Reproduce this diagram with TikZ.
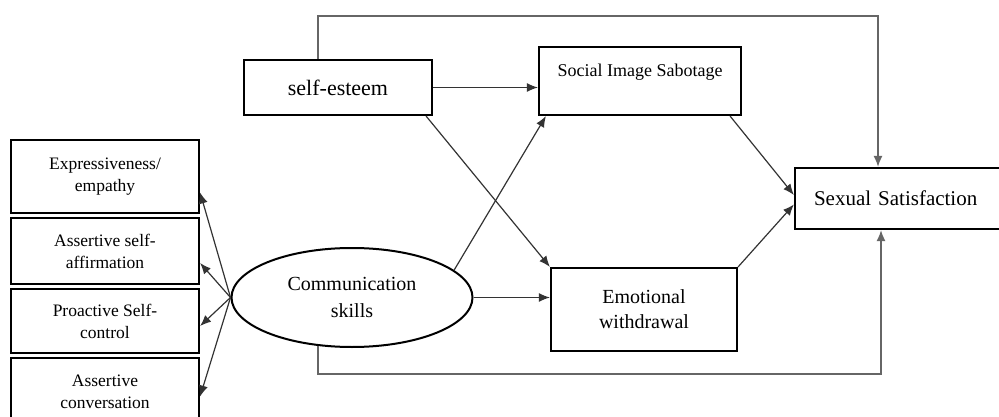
\documentclass[tikz,border=0pt]{standalone}
\usepackage{fontspec}
\setmainfont{Liberation Serif}
\usetikzlibrary{arrows.meta,shapes.geometric}

\begin{document}
\begin{tikzpicture}[x=1pt, y=-1pt,
    box/.style={draw, line width=2.2pt, align=center, inner sep=2pt},
    leftbox/.style={box, minimum width=188pt, font=\fontsize{17.5}{22}\selectfont},
    conn/.style={line width=1.2pt, draw=black!80, -{Latex[length=11pt,width=9pt]}},
    loop/.style={conn, line width=1.5pt, draw=black!60}]
    \useasboundingbox (0,0) rectangle (999,417);

    \node[box, minimum width=188pt, minimum height=55pt, font=\fontsize{22}{26}\selectfont] (esteem) at (338,87.5) {self-esteem};
    \node[box, minimum width=202pt, minimum height=68pt, text height=13pt, text depth=21pt, font=\fontsize{18}{22}\selectfont] (social) at (640,81) {Social Image Sabotage};
    \node[box, minimum width=186pt, minimum height=83pt, font=\fontsize{20}{25}\selectfont] (emo) at (644,309.5) {Emotional\\withdrawal};
    \node[box, minimum width=208pt, minimum height=61pt, font=\fontsize{21}{25}\selectfont, text width=170pt, align=left] (sex) at (899,198.5) {Sexual Satisfaction};
    \node[ellipse, draw, line width=2pt, minimum width=241pt, minimum height=99pt, inner sep=0pt, align=center, font=\fontsize{20}{27}\selectfont] (comm) at (352,297.5) {Communication\\skills};

    \node[leftbox, minimum height=73pt] (expr) at (105,176.5) {Expressiveness/\\empathy};
    \node[leftbox, minimum height=66pt] (affirm) at (105,251) {Assertive self-\\affirmation};
    \node[leftbox, minimum height=64pt] (control) at (105,321) {Proactive Self-\\control};
    \node[leftbox, minimum height=67pt] (conv) at (105,391.5) {Assertive\\conversation};

    \coordinate (topL) at (318,16);
    \coordinate (topR) at (878,16);
    \coordinate (botR) at (881,374);

    \draw[conn] (comm.west) -- ([yshift=-16pt]expr.east);
    \draw[conn] (comm.west) -- ([yshift=-12pt]affirm.east);
    \draw[conn] (comm.west) -- ([yshift=-5pt]control.east);
    \draw[conn] (comm.west) -- ([yshift=-5pt]conv.east);

    \draw[conn] (esteem.east) -- (esteem.east -| social.west);
    \draw[conn] ([xshift=-7pt]esteem.south east) -- (emo.north west);
    \draw[conn] (comm.15) -- ([xshift=8pt]social.south west);
    \draw[conn] (comm.east) -- (comm.east -| emo.west);
    \draw[conn] ([xshift=-12pt]social.south east) -- ([yshift=3.5pt]sex.west);
    \draw[conn] (emo.north east) -- ([yshift=-6pt]sex.west);

    \draw[loop] (esteem.north -| topL) -- (topL) -- (topR) -- (sex.north -| topR);
    \draw[loop] (comm.235) |- (botR) -- (sex.south -| botR);
\end{tikzpicture}
\end{document}
